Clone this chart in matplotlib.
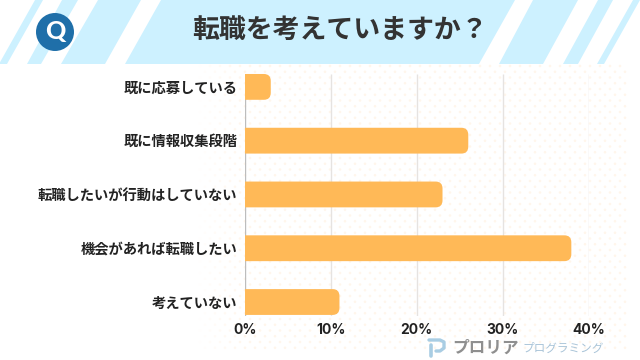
import numpy as np
import matplotlib
matplotlib.use("Agg")
import matplotlib.pyplot as plt
from matplotlib.patches import Polygon, Circle, PathPatch
from matplotlib.path import Path

plt.rcParams['font.family'] = ['Noto Sans CJK JP', 'DejaVu Sans']

title = "転職を考えていますか？"
categories = ["既に応募している", "既に情報収集段階", "転職したいが行動はしていない", "機会があれば転職したい", "考えていない"]
values = [3, 26, 23, 38, 11]
ticks = [0, 10, 20, 30, 40]
tick_labels = ["0%", "10%", "20%", "30%", "40%"]
BAR = "#ffb957"
SKY = "#cdf1ff"
W, H = 640, 360

fig = plt.figure(figsize=(6.4, 3.6), dpi=100, facecolor="white")

# decorative background in pixel coordinates
bg = fig.add_axes([0, 0, 1, 1], zorder=0)
bg.set_xlim(0, W); bg.set_ylim(H, 0); bg.axis("off")

# dotted texture
for r, y in enumerate(np.arange(66, 348, 5.75)):
    xs = np.arange(200 + (r % 2) * 5, 628, 10)
    alpha = np.clip((xs - 195) / 50, 0, 1)
    cols = np.ones((len(xs), 4)); cols[:, :3] = matplotlib.colors.to_rgb("#fff0df"); cols[:, 3] = alpha * 0.6
    bg.scatter(xs, np.full_like(xs, y, dtype=float), s=3.5, c=cols, linewidths=0, zorder=1)

# header band and stripes: (bottom-left, bottom-right, top-left, top-right)
bands = [(-1, 7, 35, 43), (27, 41, 62, 78), (61, 105, 98, 141), (125, 479, 161, 515),
         (499, 543, 533, 578), (563, 578, 598, 613), (597, 604, 633, 640)]
for bl, br, tl, tr in bands:
    bg.add_patch(Polygon([(bl, 64), (br, 64), (tr, 0), (tl, 0)], fc=SKY, ec="none", zorder=2))

# Q badge
bg.add_patch(Circle((55, 32), 19, fc="#1f6fa9", ec="none", zorder=3))
bg.text(55, 31, "Q", color="white", fontsize=18, fontweight="black", ha="center", va="center",
        family=['Lato', 'DejaVu Sans'], zorder=4)
bg.text(340, 30, title, color="#333333", fontsize=19.4, fontweight="bold", ha="center", va="center", zorder=4)

# brand mark
bg.plot([431, 431], [345, 356], color="#a9cde3", lw=2.6, solid_capstyle="round", zorder=4)
bg.plot([429, 440, 444, 444, 440, 436], [340, 340, 342, 348, 351, 351], color="#a9cde3", lw=2.4,
        solid_capstyle="round", solid_joinstyle="round", zorder=4)
bg.text(452, 347.5, "プロリア", color="#8f8f8f", fontsize=12, fontweight="bold", ha="left", va="center", zorder=4)
bg.text(522, 348, "プログラミング", color="#a9c4d8", fontsize=8.4, ha="left", va="center", zorder=4)

# chart
ax = fig.add_axes([245 / W, 1 - 316 / H, (588.5 - 245) / W, (316 - 60) / H], zorder=2)
ax.patch.set_alpha(0)
ax.set_xlim(0, 40)
ypos = np.arange(len(categories))
ax.set_ylim(4.26, -0.5)
bar_h = 0.48
for sp in ax.spines.values():
    sp.set_visible(False)
ax.vlines(ticks[1:], -0.24, 4.26, color="#e6e3e1", lw=1.0, zorder=1)
ax.vlines(0, -0.24, 4.26, color="#bdbdbd", lw=1.0, zorder=1)

rx, ry = 0.8, 0.13
for y, v in zip(ypos, values):
    t, b = y - bar_h / 2, y + bar_h / 2
    x1 = v
    verts = [(0, t), (x1 - rx, t), (x1, t), (x1, t + ry), (x1, b - ry), (x1, b), (x1 - rx, b), (0, b), (0, t)]
    codes = [Path.MOVETO, Path.LINETO, Path.CURVE3, Path.CURVE3, Path.LINETO, Path.CURVE3, Path.CURVE3,
             Path.LINETO, Path.CLOSEPOLY]
    ax.add_patch(PathPatch(Path(verts, codes), fc=BAR, ec="none", zorder=3))

ax.set_yticks(ypos)
ax.set_yticklabels(categories, fontsize=10.3, color="#222222", fontweight="bold")
ax.set_xticks(ticks)
ax.set_xticklabels(tick_labels, fontsize=10, color="#222222", fontweight="bold",
                   family=['Inter', 'Noto Sans CJK JP'])
ax.tick_params(axis="both", length=0)
ax.tick_params(axis="y", pad=5.5)
ax.tick_params(axis="x", pad=5)

fig.savefig("out.png", dpi=100)
